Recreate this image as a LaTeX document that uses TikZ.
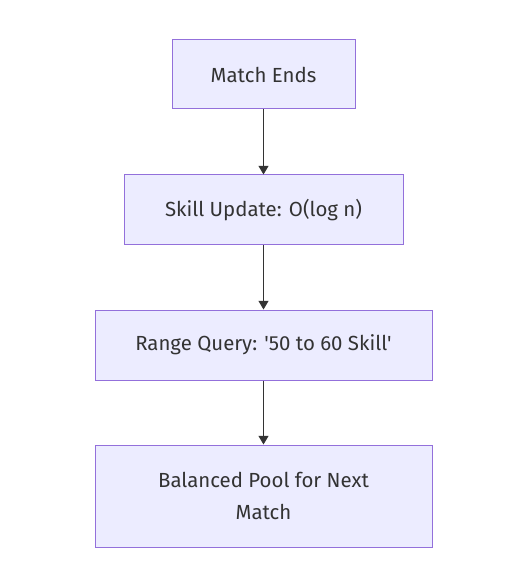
\documentclass[tikz,border=0pt]{standalone}
\usepackage{fontspec}
\setmainfont{Fira Sans}
\usetikzlibrary{arrows.meta}
\definecolor{boxfill}{HTML}{ECECFF}
\definecolor{boxline}{HTML}{9370DB}
\definecolor{ink}{HTML}{333333}
\tikzset{
    stagebox/.style={draw=boxline, fill=boxfill, line width=0.75pt, text=ink,
        inner sep=0pt, align=center, font=\fontsize{15.3}{24}\selectfont},
    flow/.style={draw=ink, line width=0.75pt, -{Triangle[width=7.5pt,length=6.5pt]}}
}
\begin{document}
\begin{tikzpicture}[x=0.75pt, y=-0.75pt]
    \useasboundingbox (0,0) rectangle (528,584);

    % Stages
    \node[stagebox, minimum width=183*0.75pt, minimum height=69*0.75pt] (ends) at (263.5,74.5) {Match Ends};
    \node[stagebox, minimum width=279*0.75pt, minimum height=70*0.75pt] (update) at (263.5,210) {Skill Update: O(log n)};
    \node[stagebox, minimum width=337*0.75pt, minimum height=70*0.75pt] (query) at (263.5,345) {Range Query: \textquotesingle 50 to 60 Skill\textquotesingle};
    \node[stagebox, minimum width=337*0.75pt, minimum height=102*0.75pt] (pool) at (263.5,496) {Balanced Pool for Next\\Match};

    % Flow
    \draw[flow] (ends) -- (update);
    \draw[flow] (update) -- (query);
    \draw[flow] (query) -- (pool);
\end{tikzpicture}
\end{document}
